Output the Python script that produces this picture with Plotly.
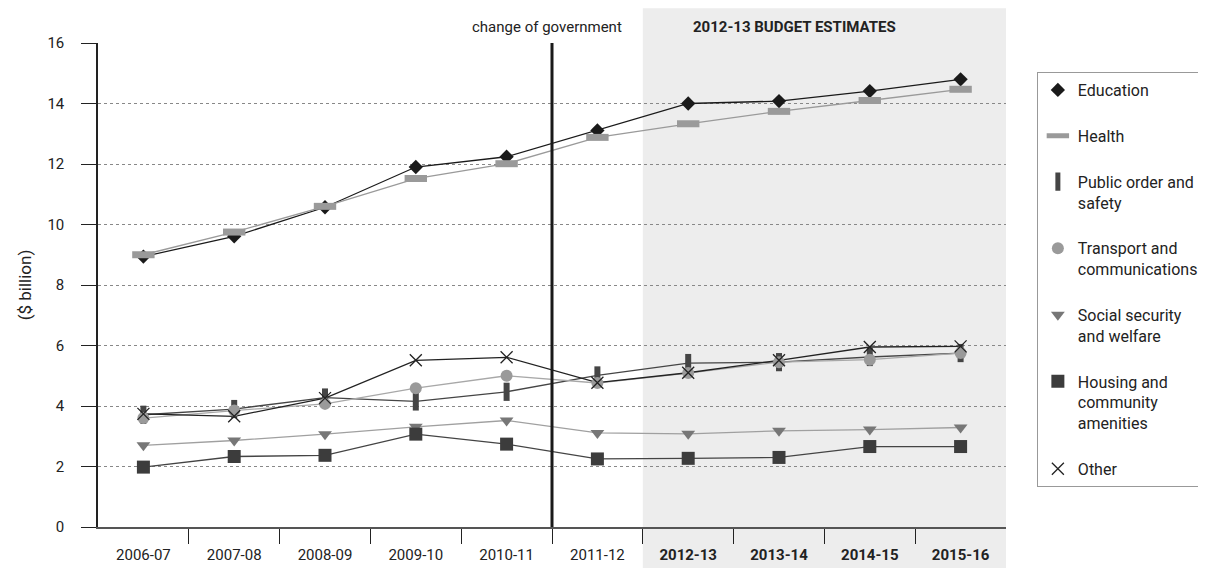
import plotly.graph_objects as go

# years on the x axis, forward estimates in bold
years = ["2006-07", "2007-08", "2008-09", "2009-10", "2010-11",
         "2011-12", "2012-13", "2013-14", "2014-15", "2015-16"]
estimate_years = ["2012-13", "2013-14", "2014-15", "2015-16"]

# $ billion
education = [8.94, 9.61, 10.57, 11.90, 12.24, 13.11, 14.00, 14.08, 14.41, 14.80]
health = [9.00, 9.75, 10.60, 11.52, 12.01, 12.88, 13.33, 13.74, 14.10, 14.47]
public_order = [3.71, 3.90, 4.28, 4.15, 4.47, 5.01, 5.42, 5.45, 5.62, 5.75]
transport = [3.60, 3.85, 4.07, 4.59, 5.00, 4.76, 5.09, 5.45, 5.53, 5.75]
social = [2.70, 2.86, 3.07, 3.31, 3.52, 3.11, 3.08, 3.18, 3.22, 3.29]
housing = [1.98, 2.33, 2.37, 3.07, 2.74, 2.25, 2.27, 2.30, 2.66, 2.66]
other = [3.74, 3.66, 4.26, 5.51, 5.61, 4.77, 5.10, 5.51, 5.95, 5.97]

FONT = "Roboto"
xs = list(range(len(years)))
labels = ["<b>%s</b>" % y if y in estimate_years else y for y in years]

series = [
    # name, values, line colour, marker symbol, marker colour, size, marker line width
    ("Education", education, "#1a1a1a", "diamond", "#1a1a1a", 11, 0),
    ("Health", health, "#9a9a9a", "line-ew", "#9a9a9a", 16, 7),
    ("Public order and<br>safety", public_order, "#454545", "line-ns", "#454545", 13, 6),
    ("Transport and<br>communications", transport, "#a8a8a8", "circle", "#9a9a9a", 12, 0),
    ("Social security<br>and welfare", social, "#a0a0a0", "triangle-down", "#777777", 12, 0),
    ("Housing and<br>community<br>amenities", housing, "#444444", "square", "#3c3c3c", 13, 0),
    ("Other", other, "#222222", "x-thin-open", "#222222", 12, 1.3),
]

fig = go.Figure()

# lines first, then markers on top
for name, vals, lc, sym, mc, ms, mlw in series:
    fig.add_trace(go.Scatter(x=xs, y=vals, mode="lines", showlegend=False,
                             line=dict(color=lc, width=1.3), hoverinfo="skip"))

for i, (name, vals, lc, sym, mc, ms, mlw) in enumerate(series):
    mk = dict(symbol=sym, size=ms, color=mc)
    if mlw:
        mk["line"] = dict(color=mc, width=mlw)
    fig.add_trace(go.Scatter(x=xs, y=vals, mode="markers", name=name,
                             legendgroup="g%d" % i, marker=mk))

# shaded budget estimates period
fig.add_shape(type="rect", xref="x", yref="paper", x0=5.5, x1=9.5, y0=-0.1, y1=1.072,
              fillcolor="#ededed", line_width=0, layer="below")
# change of government marker
fig.add_shape(type="line", xref="x", yref="y", x0=4.5, x1=4.5, y0=0, y1=16,
              line=dict(color="#1a1a1a", width=3))

fig.add_annotation(x=4.44, y=1.033, xref="x", yref="paper", text="change of government",
                   showarrow=False, yanchor="middle",
                   font=dict(family=FONT, size=15, color="#222"))
fig.add_annotation(x=7.17, y=1.033, xref="x", yref="paper", text="<b>2012-13 BUDGET ESTIMATES</b>",
                   showarrow=False, yanchor="middle",
                   font=dict(family=FONT, size=15, color="#222"))

# page body adds 8px around the figure, so the figure is 8px smaller each way
fig.update_layout(
    width=1198, height=560,
    margin=dict(l=90, r=200, t=35, b=41, autoexpand=False),
    paper_bgcolor="white", plot_bgcolor="rgba(0,0,0,0)",
    font=dict(family=FONT, size=15, color="#222"),
    legend=dict(x=1.034, y=0.94, xanchor="left", yanchor="top",
                bordercolor="#999", borderwidth=1, bgcolor="white",
                valign="top", tracegroupgap=22, traceorder="grouped",
                font=dict(family=FONT, size=16, color="#222")),
)

fig.update_xaxes(range=[-0.5, 9.5], tickvals=xs, ticktext=labels, ticks="",
                 showgrid=False, zeroline=False, showline=True, linecolor="#555", linewidth=2,
                 ticklabelstandoff=13, tickfont=dict(size=15),
                 minor=dict(tickvals=[x + 0.5 for x in xs[:-1]], ticks="outside",
                            ticklen=15, tickcolor="#222", tickwidth=1, showgrid=False))
fig.update_yaxes(range=[0, 16], dtick=2, ticks="outside", ticklen=15, tickcolor="#222",
                 showline=True, linecolor="#222", linewidth=1.5, zeroline=False,
                 showgrid=True, gridcolor="#888", griddash="dot", gridwidth=1,
                 ticklabelstandoff=14, tickfont=dict(size=15),
                 title=dict(text="($ billion)", font=dict(size=17), standoff=11))

fig.write_html("out.html")
